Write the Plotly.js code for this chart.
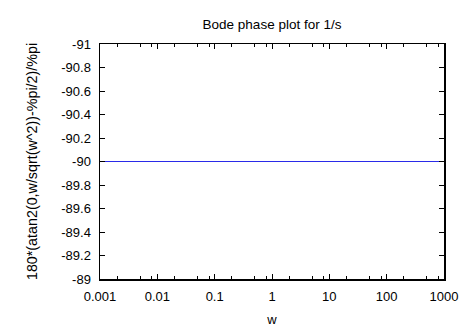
<!DOCTYPE html>
<html>
<head>
<meta charset="utf-8">
<script src="https://cdn.plot.ly/plotly-3.0.1.min.js"></script>
<style>html,body{margin:0;padding:0;background:#fff;}#chart{width:467px;height:327px;}</style>
</head>
<body>
<div id="chart"></div>
<script>
// Data
var wValues = [0.001, 0.01, 0.1, 1, 10, 100, 1000];
var phaseValues = [-90, -90, -90, -90, -90, -90, -90];
var xTickVals = [0.001, 0.01, 0.1, 1, 10, 100, 1000];
var xTickText = ["0.001", "0.01", "0.1", "1", "10", "100", "1000"];
var yTickVals = [-91, -90.8, -90.6, -90.4, -90.2, -90, -89.8, -89.6, -89.4, -89.2, -89];
var yTickText = ["-91", "-90.8", "-90.6", "-90.4", "-90.2", "-90", "-89.8", "-89.6", "-89.4", "-89.2", "-89"];

var minorVals = [];
xTickVals.slice(0, -1).forEach(function (d) { [2, 5, 8].forEach(function (m) { minorVals.push(d * m); }); });

var font = {family: "Liberation Sans, Arial, sans-serif", size: 13, color: "#000"};

var trace = {
  x: wValues, y: phaseValues, type: "scatter", mode: "lines",
  line: {color: "#2a2ae8", width: 1.1}, hoverinfo: "none"
};

var layout = {
  width: 467, height: 327,
  margin: {l: 100, r: 23, t: 44, b: 48},
  paper_bgcolor: "#fff", plot_bgcolor: "#fff",
  font: font,
  showlegend: false,
  title: {text: "Bode phase plot for 1/s", font: {family: font.family, size: 13.5, color: "#000"},
          xref: "paper", x: 0.5, xanchor: "center", yref: "container", y: 0.925, yanchor: "middle"},
  xaxis: {
    type: "log", range: [-3, 3],
    tickmode: "array", tickvals: xTickVals, ticktext: xTickText,
    ticks: "inside", ticklen: 5, tickwidth: 1, tickcolor: "#000",
    ticklabelstandoff: 5,
    showline: true, linecolor: "#000", linewidth: 1.5, mirror: "ticks",
    showgrid: false, zeroline: false,
    tickfont: font,
    minor: {tickmode: "array", tickvals: minorVals, ticks: "inside", ticklen: 3, tickcolor: "#000", showgrid: false},
    title: {text: "w", font: font, standoff: 12}
  },
  yaxis: {
    range: [-89, -91],
    tickmode: "array", tickvals: yTickVals, ticktext: yTickText,
    ticks: "inside", ticklen: 5, tickwidth: 1, tickcolor: "#000",
    ticklabelstandoff: 5,
    showline: true, linecolor: "#000", linewidth: 1.5, mirror: "ticks",
    showgrid: false, zeroline: false,
    tickfont: font,
    title: {text: "180*(atan2(0,w/sqrt(w^2))-%pi/2)/%pi", font: {family: font.family, size: 14.3, color: "#000"}, standoff: 20}
  }
};

Plotly.newPlot("chart", [trace], layout, {staticPlot: true, displayModeBar: false});
</script>
</body>
</html>
